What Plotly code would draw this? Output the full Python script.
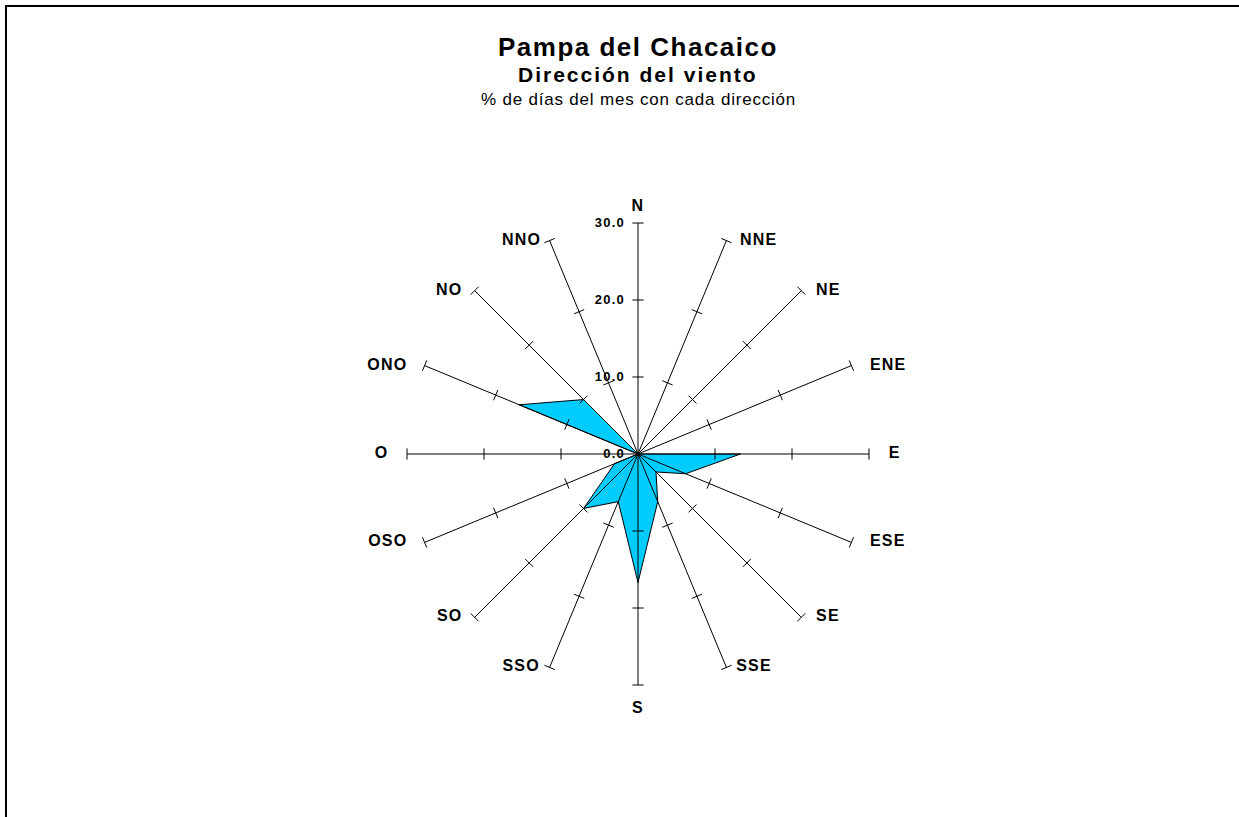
import plotly.graph_objects as go

# wind directions, clockwise from north (Spanish: O = oeste)
directions = ['N', 'NNE', 'NE', 'ENE', 'E', 'ESE', 'SE', 'SSE',
              'S', 'SSO', 'SO', 'OSO', 'O', 'ONO', 'NO', 'NNO']
# % of days of the month with each direction
pct_days = [0.0, 0.0, 0.0, 0.0, 13.3, 6.7, 3.3, 6.7,
            16.7, 6.7, 10.0, 3.3, 0.0, 16.7, 10.0, 0.0]
rad_ticks = [0, 10, 20, 30]

FONT = 'Liberation Sans, Arial, sans-serif'
R_MAX = rad_ticks[-1]


def spaced(txt, px):
    # Excel renders its chart text with wide letter spacing
    return f'<span style="letter-spacing:{px}px">{txt}</span>'


fig = go.Figure()

# wind rose polygon
fig.add_trace(go.Scatterpolar(
    r=pct_days + pct_days[:1], theta=directions + directions[:1],
    mode='lines', fill='toself', fillcolor='#00CCFF',
    line=dict(color='black', width=1), hoverinfo='skip', showlegend=False,
))

# spokes drawn above the fill (Excel style radar axes)
sp_r, sp_t = [], []
for d in directions:
    sp_r += [0, R_MAX, None]
    sp_t += [d, d, None]
fig.add_trace(go.Scatterpolar(
    r=sp_r, theta=sp_t, mode='lines', line=dict(color='black', width=1),
    hoverinfo='skip', showlegend=False, connectgaps=False,
))

# little cross ticks on every spoke
tk_r, tk_t, tk_a = [], [], []
for i, d in enumerate(directions):
    for v in rad_ticks[1:]:
        tk_r.append(v)
        tk_t.append(d)
        tk_a.append(i * 360 / len(directions))
fig.add_trace(go.Scatterpolar(
    r=tk_r, theta=tk_t, mode='markers',
    marker=dict(symbol='line-ew', size=8, angle=tk_a,
                line=dict(color='black', width=1)),
    hoverinfo='skip', showlegend=False,
))

# direction labels placed beside the spoke ends, like Excel does
n = len(directions)
lbl_pos = []
for i in range(n):
    if i == 0:
        lbl_pos.append('top center')
    elif i == n // 2:
        lbl_pos.append('bottom center')
    elif i < n // 2:
        lbl_pos.append('middle right')
    else:
        lbl_pos.append('middle left')
# invisible marker sizes = gap between spoke end and label
lbl_gap = [12, 20, 22, 28, 30, 28, 22, 14,
           24, 14, 18, 26, 28, 26, 18, 12]
fig.add_trace(go.Scatterpolar(
    r=[R_MAX] * n, theta=directions, mode='markers+text',
    text=[spaced(d, 1.2) for d in directions], textposition=lbl_pos,
    textfont=dict(family=FONT, size=16, color='black', weight='bold'),
    marker=dict(size=lbl_gap, opacity=0), hoverinfo='skip', showlegend=False,
))

W, H = 1239, 817
cx, cy, rad = 638, 454, 231

fig.update_layout(
    width=W, height=H,
    margin=dict(l=0, r=0, t=0, b=0),
    paper_bgcolor='white', plot_bgcolor='white',
    font=dict(family=FONT, color='black'),
    showlegend=False,
    polar=dict(
        domain=dict(x=[(cx - rad) / W, (cx + rad) / W],
                    y=[(H - cy - rad) / H, (H - cy + rad) / H]),
        bgcolor='rgba(0,0,0,0)',
        angularaxis=dict(
            type='category', categoryarray=directions,
            direction='clockwise', rotation=90,
            showline=False, showgrid=False, ticks='', showticklabels=False,
        ),
        radialaxis=dict(
            range=[0, R_MAX], tickvals=rad_ticks,
            ticktext=[spaced(f'{v:.1f}', 1.2) for v in rad_ticks],
            angle=90, side='counterclockwise', tickangle=90,
            showgrid=False, showline=False,
            ticks='outside', ticklen=8, tickcolor='rgba(0,0,0,0)',
            tickfont=dict(family=FONT, size=13, color='black', weight='bold'),
        ),
    ),
    shapes=[dict(type='rect', xref='paper', yref='paper',
                 x0=6 / W, x1=1.02, y0=-0.02, y1=1 - 6 / H,
                 line=dict(color='black', width=2))],
    annotations=[
        dict(text='<b>' + spaced('Pampa del Chacaico', 1.5) + '</b>',
             x=cx / W, y=1 - 47 / H, xref='paper', yref='paper',
             yanchor='middle', showarrow=False,
             font=dict(size=26, family=FONT)),
        dict(text='<b>' + spaced('Dirección del viento', 2.0) + '</b>',
             x=cx / W, y=1 - 74 / H, xref='paper', yref='paper',
             yanchor='middle', showarrow=False,
             font=dict(size=21, family=FONT)),
        dict(text=spaced('% de días del mes con cada dirección', 0.8),
             x=cx / W, y=1 - 99 / H, xref='paper', yref='paper',
             yanchor='middle', showarrow=False,
             font=dict(size=17, family=FONT)),
    ],
)

fig.write_html('out.html', config={'displayModeBar': False},
               post_script="document.body.style.margin='0';")
